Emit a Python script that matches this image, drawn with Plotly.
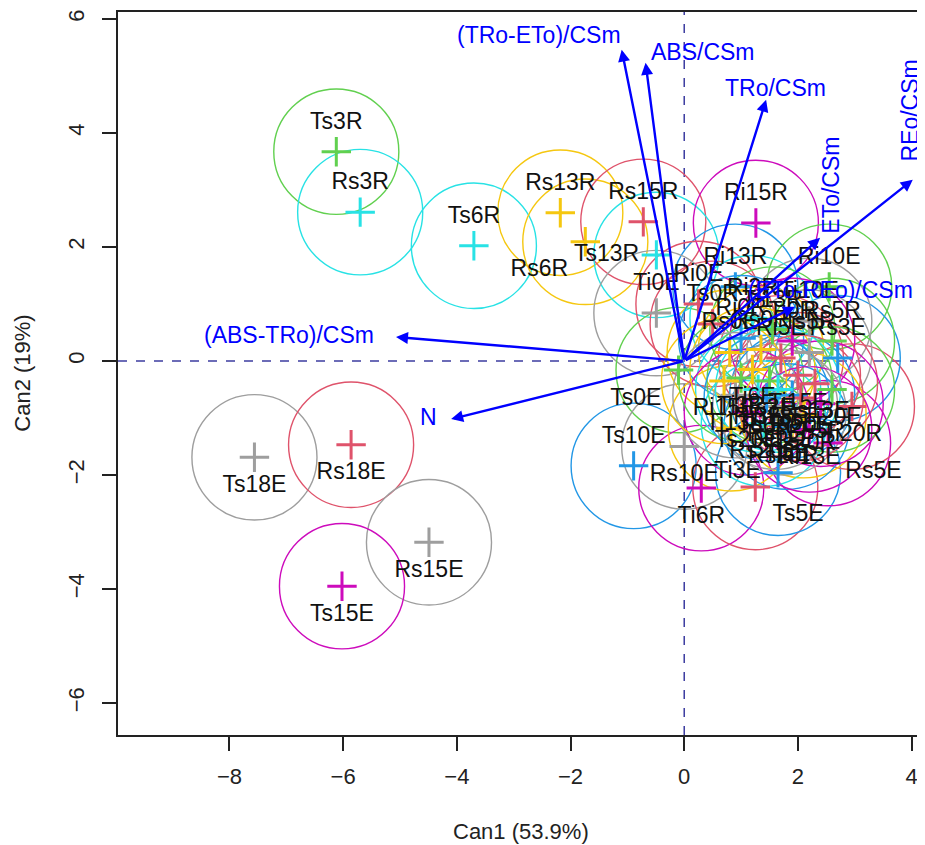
import plotly.graph_objects as go

# ---- group means (canonical scores) ----
groups = ["Ts3R", "Rs3R", "Ts6R", "Rs13R", "Rs6R", "Rs15R", "Ts13R", "Ri15R", "Ri13R", "Ri10E",
          "Ti0E", "Ri0E", "Ts0E", "Ts10E", "Rs10E", "Ti6R", "Ts5E", "Ti3E", "Rs5E", "Ti20R",
          "Rs20R", "Ts18E", "Rs18E", "Rs15E", "Ts15E", "Rs0E", "Rs3E", "Ti10E", "Rs5R",
          "Ts0R", "Ri3R", "Ti13R", "Ri0R", "Ti0R", "Rs0R", "Ts5R", "Ri5E", "Ri3E", "Ts3E",
          "Ts6E", "Ts20E", "Ts20R", "Rs6E", "Rs13E", "Rs20E", "Ti3R", "Ti5E", "Ti5R", "Ti6E",
          "Ti13E", "Ti15E", "Ti18E", "Ti20E", "Ri6R", "Ri13E", "Ri15E", "Ri18E", "Ri20E"]
can1 = [-6.12, -5.70, -3.70, -2.18, -1.74, -0.72, -0.49, 1.26, 0.90, 2.55,
        -0.49, 0.25, -0.10, -0.89, 0.00, 0.30, 1.25, 1.65, 2.53, 2.95,
        0.82, -7.56, -5.86, -4.49, -6.02, 0.80, 2.70, 2.20, 2.60,
        0.50, 1.20, 1.55, 1.00, 1.90, 1.35, 2.20, 1.70, 1.30, 1.50,
        1.90, 1.10, 2.10, 1.60, 2.30, 1.40, 1.00, 1.80, 2.40, 1.20,
        0.90, 2.00, 1.65, 2.60, 1.45, 2.20, 0.70, 1.75, 2.05]
can2 = [3.67, 2.61, 2.02, 2.60, 2.09, 2.44, 1.86, 2.42, 1.30, 1.30,
        0.84, 1.00, -0.16, -1.84, -1.50, -2.23, -2.21, -1.96, -1.44, -0.80,
        -1.18, -1.69, -1.47, -3.18, -3.95, 0.15, 0.05, 0.70, 0.35,
        0.65, 0.75, 0.55, 0.40, 0.35, 0.20, 0.15, 0.05, -0.50, -0.35,
        -0.60, -0.90, -0.95, -0.80, -0.40, -1.10, -0.30, -1.15, -0.75, -0.15,
        -0.60, -0.25, -0.50, -0.50, -0.65, -1.20, -0.35, -0.90, -0.65]
circle_radius = 1.1

# ---- structure vectors ----
variables = ["(TRo-ETo)/CSm", "ABS/CSm", "TRo/CSm", "REo/CSm", "ETo/CSm",
             "(ETo-REo)/CSm", "(ABS-TRo)/CSm", "N"]
vec_x = [-1.10, -0.68, 1.44, 4.02, 2.39, 1.95, -5.07, -4.10]
vec_y = [5.46, 5.23, 4.58, 3.18, 2.16, 0.95, 0.42, -1.02]
lab_x = [-2.56, 0.33, 1.61, 3.98, 2.58, 2.58, -6.96, -4.49]
lab_y = [5.72, 5.42, 4.79, 4.40, 3.09, 1.25, 0.46, -0.98]

x_ticks = [-8, -6, -4, -2, 0, 2, 4]
y_ticks = [-6, -4, -2, 0, 2, 4, 6]
x_title = "Can1 (53.9%)"
y_title = "Can2 (19%)"

# ---- styles ----
RED, GREEN, BLUE, CYAN, MAG, YEL, GRAY = "#DF536B", "#61D04F", "#2297E6", "#28E2E5", "#CD0BBC", "#F5C710", "#9E9E9E"
colors = [GREEN, CYAN, CYAN, YEL, YEL, RED, CYAN, MAG, BLUE, GREEN,
          GRAY, RED, GREEN, BLUE, GRAY, MAG, RED, BLUE, MAG, RED,
          YEL, GRAY, RED, GRAY, MAG, YEL, BLUE, GRAY, GREEN,
          RED, CYAN, GREEN, BLUE, MAG, YEL, GRAY, RED, CYAN, GREEN,
          BLUE, MAG, YEL, GRAY, RED, CYAN, GREEN, BLUE, MAG, YEL,
          GRAY, RED, CYAN, GREEN, BLUE, MAG, YEL, GRAY, RED]
textpos = ["top center"] * 4 + ["bottom left", "top center", "middle left", "top center", "top center", "top center",
           "top center", "top center", "bottom left", "top center", "bottom center", "bottom center",
           "bottom right", "middle left", "bottom right", "bottom center", "bottom right",
           "bottom center", "bottom center", "bottom center", "bottom center",
           "top center", "top center", "top center", "top center"]
textpos += ["top center" if v > 0 else "bottom center" for v in can2[len(textpos):]]
lab_angle = [0, 0, 0, -90, -90, 0, 0, 0]

FONT = "Liberation Sans, Arial, Helvetica, sans-serif"
fig = go.Figure()

# reference dashed lines at 0
fig.add_shape(type="line", xref="x", yref="paper", x0=0, x1=0, y0=0, y1=1,
              line=dict(color="#3C3CA0", width=1.5, dash="dash"), layer="below")
fig.add_shape(type="line", xref="paper", yref="y", x0=0, x1=1, y0=0, y1=0,
              line=dict(color="#3C3CA0", width=1.5, dash="dash"), layer="below")

# circles
for x, y, c in zip(can1, can2, colors):
    fig.add_shape(type="circle", xref="x", yref="y",
                  x0=x - circle_radius, x1=x + circle_radius,
                  y0=y - circle_radius, y1=y + circle_radius,
                  line=dict(color=c, width=1.4), layer="below")

# crosses
fig.add_trace(go.Scatter(x=can1, y=can2, mode="markers", hoverinfo="skip",
                         marker=dict(symbol="cross-thin", size=21,
                                     line=dict(width=3, color=colors))))
# labels
fig.add_trace(go.Scatter(x=can1, y=can2, mode="markers+text", text=groups, textposition=textpos,
                         hoverinfo="skip",
                         marker=dict(size=26, color="rgba(0,0,0,0)"),
                         textfont=dict(family=FONT, size=23, color="#111111")))

# arrows
for vx, vy in zip(vec_x, vec_y):
    fig.add_annotation(x=vx, y=vy, ax=0, ay=0, xref="x", yref="y", axref="x", ayref="y",
                       text="", showarrow=True, arrowhead=2, arrowsize=1.0, arrowwidth=2.4,
                       arrowcolor="#0000FF", standoff=0, startstandoff=0)
for name, lx, ly, ang in zip(variables, lab_x, lab_y, lab_angle):
    fig.add_annotation(x=lx, y=ly, xref="x", yref="y", text=name, showarrow=False,
                       textangle=ang, font=dict(family=FONT, size=23, color="#0000FF"))

# axis titles
fig.add_annotation(x=0.5, y=-0.134, xref="paper", yref="paper", text=x_title, showarrow=False,
                   yanchor="middle", font=dict(family=FONT, size=22, color="#222222"))
fig.add_annotation(x=-0.119, y=0.5, xref="paper", yref="paper", text=y_title, showarrow=False,
                   textangle=-90, xanchor="center", font=dict(family=FONT, size=22, color="#222222"))

axis_common = dict(showgrid=False, zeroline=False, showline=True, linecolor="#222222", linewidth=1.5,
                   mirror=True, ticks="outside", ticklen=14, tickwidth=1.5, tickcolor="#222222",
                   tickfont=dict(family=FONT, size=22, color="#222222"))
fig.update_xaxes(range=[-9.96, 4.2], tickvals=x_ticks, ticktext=[str(t).replace("-", "−") for t in x_ticks],
                 ticklabelstandoff=7, **axis_common)
fig.update_yaxes(range=[-6.56, 6.12], tickvals=y_ticks, ticktext=[str(t).replace("-", "−") for t in y_ticks],
                 tickangle=-90, ticklabelstandoff=9, **axis_common)
# page body adds an 8px offset, so the figure is 8px smaller than the window
fig.update_layout(width=917, height=837, margin=dict(l=110, r=0, t=4, b=110),
                  plot_bgcolor="white", paper_bgcolor="white", showlegend=False)
fig.write_html("out.html")
